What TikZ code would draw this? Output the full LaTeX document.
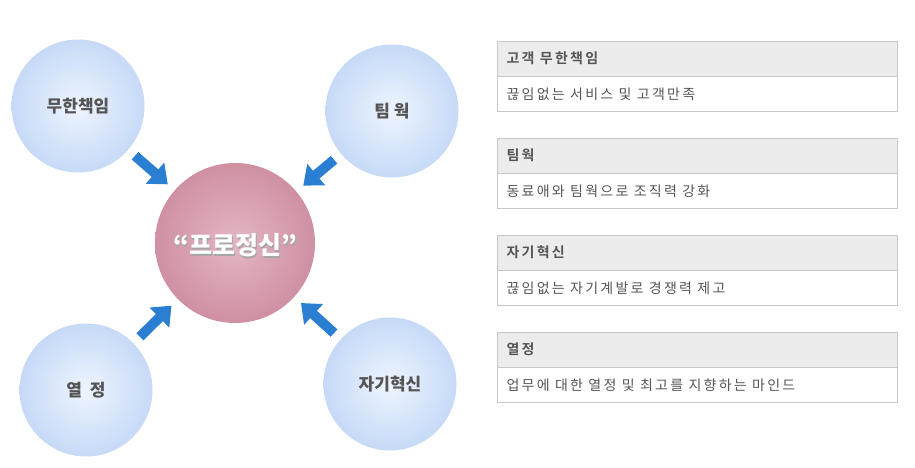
\documentclass[tikz,border=0pt]{standalone}
\usepackage{fontspec}
\setmainfont{Noto Sans CJK KR}
\newfontfamily\boxfont[LetterSpace=16,BoldFont={Noto Sans CJK KR Bold}]{Noto Sans CJK KR}
\usetikzlibrary{arrows.meta}
\definecolor{ballblue}{HTML}{C6DAF7}
\definecolor{ballin}{HTML}{EEF4FE}
\definecolor{rosein}{HTML}{E4B6C3}
\definecolor{roseout}{HTML}{CF90A2}
\definecolor{arrowblue}{HTML}{2B7FD3}
\definecolor{boxline}{HTML}{C8C8C8}
\definecolor{headgray}{HTML}{ECECEC}
\definecolor{txtgray}{HTML}{555555}
\tikzset{
  ball/.style={circle,minimum size=133pt,inner sep=0pt,shading=radial,
    inner color=ballin,outer color=ballblue,font=\fontsize{17}{17}\selectfont\bfseries,text=txtgray},
  core/.style={circle,minimum size=160pt,inner sep=0pt,shading=radial,
    inner color=rosein,outer color=roseout},
  push/.style={draw=arrowblue,line width=10pt,shorten <=9pt,shorten >=9pt,
    -{Triangle[width=27pt,length=17pt]}},
  headbox/.style={draw=boxline,fill=headgray,minimum width=400pt,minimum height=35pt,inner sep=0pt},
  bodybox/.style={draw=boxline,fill=white,minimum width=400pt,minimum height=35pt,inner sep=0pt},
  headtxt/.style={anchor=west,font=\boxfont\fontsize{14}{14}\selectfont\bfseries,text=txtgray},
  bodytxt/.style={anchor=west,font=\boxfont\fontsize{14}{14}\selectfont,text=txtgray}
}
\begin{document}
\begin{tikzpicture}[x=1pt,y=-1pt]
   \useasboundingbox (0,0) rectangle (915,468);
   % circles
   \node[core] (ctr) at (235,243) {};
   \node[text=gray!70,font=\fontsize{25}{25}\selectfont\bfseries] at (236.5,247.5) {“프로정신”};
   \node[text=white,font=\fontsize{25}{25}\selectfont\bfseries] (ctrtxt) at (235,245) {“프로정신”};
   \node[ball] (mu) at (78,106) {무한책임};
   \node[ball] (team) at (392,111) {팀 웍};
   \node[ball] (yeol) at (86,390) {열\ \ 정};
   \node[ball] (self) at (390,384) {자기혁신};
   % arrows
   \draw[push] (mu) -- (ctr);
   \draw[push] (team) -- (ctr);
   \draw[push] (yeol) -- (ctr);
   \draw[push] (self) -- (ctr);
   % boxes
   \foreach \y/\h/\b [count=\i] in {41/고객 무한책임/끊임없는 서비스 및 고객만족,
       138/팀웍/동료애와 팀웍으로 조직력 강화,
       235/자기혁신/끊임없는 자기계발로 경쟁력 제고,
       332/열정/업무에 대한 열정 및 최고를 지향하는 마인드}{
     \node[headbox,anchor=north west] (h\i) at (497,\y) {};
     \node[bodybox,anchor=north] (b\i) at (h\i.south) {};
     \node[headtxt] at ([xshift=6pt]h\i.west) {\h};
     \node[bodytxt] at ([xshift=6pt]b\i.west) {\b};
   }
\end{tikzpicture}
\end{document}
